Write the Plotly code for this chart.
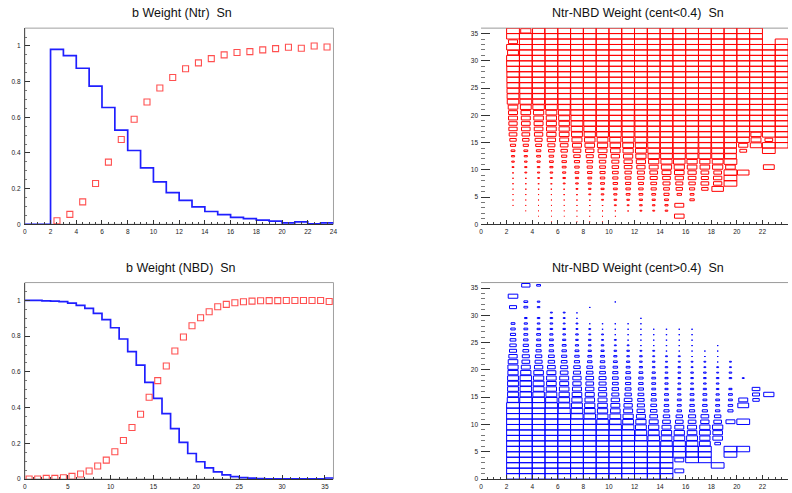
import math
import plotly.graph_objects as go

# ---------------------------------------------------------------- data
# b weight as a function of Ntr (bins of width 1 from 0 to 24)
ntr_bin_low = list(range(0, 24))
b_weight_ntr = [0, 0, 0.981, 0.946, 0.875, 0.775, 0.655, 0.528, 0.414, 0.316,
                0.238, 0.178, 0.134, 0.098, 0.072, 0.054, 0.039, 0.032, 0.024,
                0.018, 0.008, 0.014, 0.002, 0.008]
ntr_points = [2.5, 3.5, 4.5, 5.5, 6.5, 7.5, 8.5, 9.5, 10.5, 11.5, 12.5, 13.5,
              14.5, 15.5, 16.5, 17.5, 18.5, 19.5, 20.5, 21.5, 22.5, 23.5]
comp_weight_ntr = [0.02, 0.056, 0.126, 0.229, 0.349, 0.476, 0.589, 0.686, 0.764,
                   0.823, 0.872, 0.905, 0.929, 0.950, 0.963, 0.968, 0.978, 0.985,
                   0.993, 0.987, 1.0, 0.994]

# b weight as a function of NBD (bins of width 1 from 0 to 36)
nbd_bin_low = list(range(0, 36))
b_weight_nbd = [1.0, 1.0, 0.998, 0.996, 0.993, 0.985, 0.972, 0.955, 0.928, 0.893,
                0.847, 0.784, 0.713, 0.638, 0.541, 0.452, 0.366, 0.282, 0.205,
                0.143, 0.097, 0.063, 0.040, 0.023, 0.014, 0.008, 0.005, 0.003,
                0.001, 0.001, 0.001, 0.001, 0.001, 0.001, 0.001, 0.006]
nbd_points = [0.5, 1.5, 2.5, 3.5, 4.5, 5.5, 6.5, 7.5, 8.5, 9.5, 10.5, 11.5, 12.5,
              13.5, 14.5, 15.5, 16.5, 17.5, 18.5, 19.5, 20.5, 21.5, 22.5, 23.5,
              24.5, 25.5, 26.5, 27.5, 28.5, 29.5, 30.5, 31.5, 32.5, 33.5, 34.5, 35.5]
comp_weight_nbd = [0, 0, 0.004, 0.004, 0.007, 0.015, 0.028, 0.045, 0.073, 0.106,
                   0.153, 0.216, 0.289, 0.363, 0.458, 0.551, 0.633, 0.717, 0.795,
                   0.858, 0.903, 0.937, 0.965, 0.978, 0.987, 0.993, 0.996, 0.998,
                   0.999, 0.999, 1.0, 1.0, 1.0, 1.0, 1.0, 0.994]

# 2D Ntr-NBD weights: one list per Ntr bin (2..23), entries over NBD bins 0..35
ntr_2d_bins = [2, 3, 4, 5, 6, 7, 8, 9, 10, 11, 12, 13, 14, 15, 16, 17, 18, 19, 20, 21, 22, 23]

w_cent_below = [
    [0, 0, 0, .004, .005, .005, .006, .01, .01, .014, .023, .04, .06, .09, .16, .25, .36, .42, .42, .49, .49, .56, .81, .85, .88, .9, .92, .92, .96, 1, 1, .72, 1, .49, 1, 1],
    [0, 0, .003, .004, .005, .006, .01, .01, .014, .023, .032, .04, .06, .09, .16, .25, .36, .45, .46, .49, .56, .72, .85, .88, .9, .92, .94, .94, .96, .98, 1, .96, .96, 1, 1, .64],
    [0, .002, .003, .004, .005, .006, .01, .014, .02, .029, .04, .06, .09, .12, .2, .3, .42, .46, .49, .56, .64, .81, .86, .9, .92, .94, .94, .96, .96, .96, 1, .96, .96, 1, 1, .9],
    [.002, .002, .003, .004, .005, .006, .01, .017, .023, .04, .06, .09, .12, .2, .3, .42, .52, .58, .61, .64, .72, .86, .9, .94, .94, .94, .96, .96, .96, .96, .98, 1, 1, 1, 1, 1],
    [0, .002, .003, .004, .006, .01, .014, .023, .04, .06, .09, .12, .16, .25, .36, .49, .58, .64, .67, .74, .81, .9, .92, .94, .94, .96, .96, .96, .98, .98, .98, 1, 1, 1, 1, 1],
    [.002, .003, .004, .006, .01, .014, .023, .04, .06, .09, .12, .16, .25, .36, .49, .61, .72, .81, .85, .88, .92, .94, .94, .96, .96, .96, .98, .98, .98, 1, .99, 1, 1, 1, 1, 1],
    [.003, .004, .006, .01, .014, .023, .04, .06, .09, .12, .16, .2, .3, .42, .56, .67, .77, .85, .88, .92, .94, .96, .96, .96, .98, .98, .98, .98, 1, 1, 1, 1, 1, 1, 1, 1],
    [.003, .004, .006, .01, .023, .04, .06, .09, .12, .16, .2, .25, .36, .49, .64, .72, .85, .9, .9, .94, .96, .96, .96, .98, .98, .98, .98, 1, 1, 1, 1, 1, 1, 1, 1, 1],
    [0, .004, .006, .023, .04, .06, .09, .12, .16, .2, .25, .3, .42, .56, .67, .77, .85, .9, .88, .92, .94, .96, .96, .98, .98, .98, 1, 1, 1, 1, 1, 1, 1, 1, 1, 1],
    [0, 0, .01, .023, .04, .09, .12, .16, .2, .25, .36, .42, .52, .64, .72, .81, .86, .9, .9, .92, .94, .96, .96, .96, .98, 1, 1, 1, 1, 1, 1, 1, 1, 1, 1, 1],
    [0, 0, .023, .04, .06, .09, .12, .16, .25, .3, .42, .52, .64, .72, .77, .85, .88, .9, .88, .92, .94, .96, .96, .98, .98, 1, 1, 1, 1, 1, 1, 1, 1, 1, 1, 1],
    [0, 0, .023, .04, .06, .09, .16, .2, .3, .36, .49, .64, .77, .85, .88, .9, .92, .92, .92, .94, .96, .96, .98, .98, .98, 1, 1, 1, 1, 1, 1, 1, 1, 1, 1, 1],
    [0, 0, .04, .06, .09, .16, .2, .3, .36, .49, .64, .76, .85, .88, .9, .92, .94, .94, .94, .96, .96, .98, .98, .98, 1, 1, 1, 1, 1, 1, 1, 1, 1, 1, 1, 1],
    [0, .56, 0, .49, 0, .12, .25, .3, .42, .56, .64, .81, .88, .9, .92, .94, .94, .96, .96, .96, .96, .98, .98, .98, 1, 1, 1, 1, 1, 1, 1, 1, 1, 1, 1, 1],
    [0, 0, 0, 0, .12, .09, .16, .25, .36, .42, .56, .64, .85, .88, .9, .92, .94, .96, .96, .96, .98, .98, 1, 1, 1, 1, 1, 1, 1, 1, 1, 1, 1, 1, 1, 1],
    [0, 0, 0, 0, 0, 0, .25, .36, .3, .36, .56, .64, .86, .88, .9, .92, .94, .96, .96, .96, .98, .98, 1, 1, 1, 1, 1, 1, 1, 1, 1, 1, 1, 1, 1, 1],
    [0, 0, 0, 0, 0, 0, .81, .42, .42, .36, .64, .72, .86, .88, .9, .92, .94, .96, .96, .96, .98, .98, 1, 1, 1, 1, 1, 1, 1, 1, 1, 1, 1, 1, 1, 1],
    [0, 0, 0, 0, 0, 0, 0, 1, 1, 1, .56, 1, .85, .88, .9, .92, .94, 1, .96, .96, .98, .98, 1, 1, 1, 1, 1, 1, 1, 1, 1, 1, 1, 1, 1, 1],
    [0, 0, 0, 0, 0, 0, 0, 0, 0, .81, 0, 0, 0, .28, .51, .9, 1, 1, .98, 1, 1, 1, 1, 1, 1, 1, 1, 1, 1, 1, 1, 1, 1, 1, 1, 1],
    [0, 0, 0, 0, 0, 0, 0, 0, 0, 0, 0, 0, 0, 0, .8, .6, .65, 1, 1, 1, 1, 1, 1, 1, 1, 1, 1, 1, 1, 1, 1, 1, 1, 1, 1, 1],
    [0, 0, 0, 0, 0, 0, 0, 0, 0, 0, .72, 0, 0, 1, 1, .36, 1, 1, 1, 1, 1, 1, 1, 1, 1, 1, 1, 1, 1, 1, 1, 1, 1, 0, 0, 0],
    [0, 0, 0, 0, 0, 0, 0, 0, 0, 0, 0, 0, 0, 0, 1, 1, 1, 1, 1, 1, 1, 1, 1, 1, 1, 1, 1, 1, 1, 1, 1, 1, 1, 1, 0, 0],
]

w_cent_above = [
    [1, 1, 1, 1, 1, 1, 1, 1, 1, 1, 1, 1, 1, 1, .81, .72, .72, .72, .72, .64, .64, .56, .42, .3, .25, .2, .16, .12, .09, 0, 0, .3, 0, .56, 0, 0],
    [1, 1, 1, 1, 1, 1, 1, 1, 1, 1, 1, 1, 1, 1, .9, .81, .81, .81, .81, .64, .49, .36, .3, .2, .16, .12, .09, .09, .06, .04, 0, .09, .09, 0, 0, .42],
    [1, 1, 1, 1, 1, 1, 1, 1, 1, 1, 1, 1, 1, 1, .9, .81, .72, .72, .64, .56, .42, .3, .25, .16, .12, .09, .09, .06, .04, .04, 0, .04, .04, 0, 0, .09],
    [1, 1, 1, 1, 1, 1, 1, 1, 1, 1, 1, 1, 1, .9, .81, .72, .64, .56, .56, .49, .36, .25, .2, .12, .09, .09, .06, .04, .04, .04, .023, 0, 0, 0, 0, 0],
    [1, 1, 1, 1, 1, 1, 1, 1, 1, 1, 1, 1, .9, .81, .72, .64, .56, .49, .49, .36, .3, .2, .16, .12, .09, .06, .04, .04, .023, .023, .023, 0, 0, 0, 0, 0],
    [1, 1, 1, 1, 1, 1, 1, 1, 1, 1, 1, .9, .81, .72, .64, .56, .49, .42, .42, .3, .25, .16, .12, .09, .06, .04, .04, .023, .023, .01, .01, 0, 0, 0, 0, 0],
    [1, 1, 1, 1, 1, 1, 1, 1, 1, 1, .9, .81, .72, .64, .56, .49, .42, .36, .36, .25, .2, .12, .09, .06, .04, .04, .023, .023, .01, 0, 0, .01, 0, 0, 0, 0],
    [1, 1, 1, 1, 1, 1, 1, 1, 1, 1, .81, .72, .64, .56, .49, .42, .36, .3, .3, .2, .16, .12, .09, .06, .04, .023, .023, .01, .01, 0, 0, 0, 0, 0, 0, 0],
    [1, 1, 1, 1, 1, 1, 1, 1, 1, .9, .81, .72, .56, .49, .42, .3, .25, .2, .2, .16, .12, .09, .06, .04, .023, .023, .01, .01, .01, 0, 0, 0, .01, 0, 0, 0],
    [1, 1, 1, 1, 1, 1, 1, 1, 1, .81, .72, .64, .49, .42, .36, .25, .2, .16, .16, .12, .09, .06, .04, .04, .023, .01, .01, .01, .01, 0, 0, 0, 0, 0, 0, 0],
    [1, 1, 1, 1, 1, 1, 1, .9, .81, .72, .64, .49, .36, .3, .25, .2, .16, .12, .12, .09, .06, .04, .04, .023, .01, .01, .01, .01, .01, .01, 0, 0, 0, 0, 0, 0],
    [1, 1, 1, 1, 1, 1, .9, .81, .72, .64, .49, .36, .25, .2, .16, .12, .09, .09, .09, .06, .04, .04, .023, .023, .01, .01, .01, .01, 0, 0, 0, 0, 0, 0, 0, 0],
    [1, 1, 1, 1, 1, 1, .81, .72, .64, .49, .36, .25, .16, .12, .09, .09, .06, .06, .06, .04, .04, .023, .023, .01, .01, .01, .01, .01, 0, 0, 0, 0, 0, 0, 0, 0],
    [0, .49, 0, .49, 1, .9, .9, .72, .64, .49, .36, .25, .12, .09, .09, .06, .06, .04, .04, .04, .04, .023, .023, .01, .01, .01, .01, .01, 0, 0, 0, 0, 0, 0, 0, 0],
    [0, 0, 0, 1, .9, .9, .81, .72, .56, .49, .36, .3, .16, .12, .09, .09, .06, .04, .04, .04, .023, .023, .01, .01, .01, .01, .01, .01, 0, 0, 0, 0, 0, 0, 0, 0],
    [0, 0, 0, 1, 1, 1, .72, .64, .72, .64, .42, .36, .16, .12, .09, .09, .06, .04, .04, .04, .023, .023, .01, .01, 0, 0, 0, 0, 0, 0, 0, 0, 0, 0, 0, 0],
    [0, 0, 1, 0, 0, 0, .2, .56, .56, .64, .36, .25, .12, .09, .09, .06, .04, .04, .04, .023, .023, .01, .01, .01, .01, 0, 0, 0, 0, 0, 0, 0, 0, 0, 0, 0],
    [0, 0, 0, 0, 1, 1, 0, 0, 0, 0, .49, 0, .16, .12, .09, .09, .06, 0, .04, .04, .023, .023, 0, 0, 0, 0, 0, 0, 0, 0, 0, 0, 0, 0, 0, 0],
    [0, 0, 0, 0, 0, 1, 0, 0, 0, 0, 1, 0, 0, .72, .49, 0, 0, 0, .023, 0, 0, 0, 0, 0, 0, 0, 0, 0, 0, 0, 0, 0, 0, 0, 0, 0],
    [0, 0, 0, 0, 0, 0, 0, 0, 0, 0, 0, 0, 0, 0, .25, .3, .36, 0, 0, 0, 0, 0, 0, 0, 0, 0, 0, 0, 0, 0, 0, 0, 0, 0, 0, 0],
    [0, 0, 0, 0, 0, 0, 0, 0, 0, 0, 0, 0, 0, 0, 0, .64, 0, 0, 0, 0, 0, 0, 0, 0, 0, 0, 0, 0, 0, 0, 0, 0, 0, 0, 0, 0],
    [0, 0, 0, 0, 0, 0, 0, 0, 0, 0, 0, 0, 0, 0, 0, 0, 0, 0, 0, 0, 0, 0, 0, 0, 0, 0, 0, 0, 0, 0, 0, 0, 0, 0, 0, 0],
]

titles = ["b Weight (Ntr)  Sn", "Ntr-NBD Weight (cent<0.4)  Sn",
          "b Weight (NBD)  Sn", "Ntr-NBD Weight (cent>0.4)  Sn"]

# ---------------------------------------------------------------- styling
FONT = "Liberation Sans, Arial, Helvetica, sans-serif"
BLUE = "#1f1fff"
RED_MARK = "#ff5050"
W, H = 792, 493

x_left = [23 / W, 334 / W]
x_right = [482.7 / W, 1.0]
y_top = [(H - 225.7) / H, (H - 28.3) / H]
y_bot = [(H - 482.0) / H, (H - 284.3) / H]


def step_xy(edges_low, values, last_edge):
    xs = list(edges_low) + [last_edge]
    ys = list(values) + [values[-1]]
    return xs, ys


def box_outline(columns, bins):
    """ROOT 'BOX' style: each cell is a box centred on the bin whose area
    scales with the bin content."""
    wmax = max(max(c) for c in columns)
    xs, ys = [], []
    for col, ntr in zip(columns, bins):
        cx = ntr + 0.5
        for j, w in enumerate(col):
            if w <= 0:
                continue
            h = 0.5 * math.sqrt(w / wmax)
            cy = j + 0.5
            xs += [cx - h, cx + h, cx + h, cx - h, cx - h, None]
            ys += [cy - h, cy - h, cy + h, cy + h, cy - h, None]
    return xs, ys


fig = go.Figure()

# top-left: weight vs Ntr
sx, sy = step_xy(ntr_bin_low, b_weight_ntr, 24)
fig.add_trace(go.Scatter(x=sx, y=sy, mode="lines", line=dict(color=BLUE, width=1.7, shape="hv"),
                         xaxis="x", yaxis="y", showlegend=False))
fig.add_trace(go.Scatter(x=ntr_points, y=comp_weight_ntr, mode="markers",
                         marker=dict(symbol="square-open", size=6, color=RED_MARK,
                                     line=dict(width=1.1, color=RED_MARK)),
                         xaxis="x", yaxis="y", showlegend=False))

# bottom-left: weight vs NBD
sx, sy = step_xy(nbd_bin_low, b_weight_nbd, 36)
fig.add_trace(go.Scatter(x=sx, y=sy, mode="lines", line=dict(color=BLUE, width=1.7, shape="hv"),
                         xaxis="x3", yaxis="y3", showlegend=False))
fig.add_trace(go.Scatter(x=nbd_points, y=comp_weight_nbd, mode="markers",
                         marker=dict(symbol="square-open", size=6, color=RED_MARK,
                                     line=dict(width=1.1, color=RED_MARK)),
                         xaxis="x3", yaxis="y3", showlegend=False))

# right column: 2D box maps
bx, by = box_outline(w_cent_below, ntr_2d_bins)
fig.add_trace(go.Scatter(x=bx, y=by, mode="lines", line=dict(color="#ff0000", width=1),
                         xaxis="x2", yaxis="y2", showlegend=False, connectgaps=False))
bx, by = box_outline(w_cent_above, ntr_2d_bins)
fig.add_trace(go.Scatter(x=bx, y=by, mode="lines", line=dict(color="#0000ff", width=1),
                         xaxis="x4", yaxis="y4", showlegend=False, connectgaps=False))

tickfont = dict(family=FONT, size=6.5, color="#222")


def xaxis(domain, rng, dtick, minor, anchor):
    return dict(domain=domain, range=rng, anchor=anchor, dtick=dtick, tick0=0,
                ticks="inside", ticklen=4, tickwidth=1, tickcolor="#333",
                minor=dict(dtick=minor, tick0=0, ticks="inside", ticklen=2,
                           tickcolor="#444", tickwidth=1),
                showline=True, linecolor="#333", linewidth=1,
                showgrid=False, zeroline=False, tickfont=tickfont,
                ticklabelstandoff=1)


def yaxis(domain, rng, dtick, minor, anchor, major_len, minor_len, line):
    return dict(domain=domain, range=rng, anchor=anchor, dtick=dtick, tick0=0,
                ticks="inside", ticklen=major_len, tickwidth=1, tickcolor="#333",
                minor=dict(dtick=minor, tick0=0, ticks="inside", ticklen=minor_len,
                           tickcolor="#777", tickwidth=1),
                showline=line, linecolor="#555", linewidth=1,
                showgrid=False, zeroline=False, tickfont=tickfont,
                ticklabelstandoff=2)


fig.update_layout(
    width=W, height=H,
    margin=dict(l=0, r=0, t=0, b=0),
    paper_bgcolor="white", plot_bgcolor="white",
    font=dict(family=FONT),
    xaxis=xaxis(x_left, [0, 24], 2, 0.5, "y"),
    yaxis=yaxis(y_top, [0, 1.1], 0.2, 0.05, "x", 5, 2.5, True),
    xaxis2=xaxis(x_right, [0, 24], 2, 0.5, "y2"),
    yaxis2=yaxis(y_top, [0, 36], 5, 1, "x2", 9, 4, False),
    xaxis3=xaxis(x_left, [0, 36], 5, 1, "y3"),
    yaxis3=yaxis(y_bot, [0, 1.1], 0.2, 0.05, "x3", 5, 2.5, True),
    xaxis4=xaxis(x_right, [0, 24], 2, 0.5, "y4"),
    yaxis4=yaxis(y_bot, [0, 36], 5, 1, "x4", 9, 4, False),
)

# frames: full box on the 1D panels, top edge on the 2D panels
for xa, ya in (("x", "y"), ("x3", "y3")):
    fig.add_shape(type="rect", xref=f"{xa} domain", yref=f"{ya} domain",
                  x0=0, x1=1, y0=0, y1=1, line=dict(color="#a0a0a0", width=1),
                  layer="below")
for xa, ya in (("x2", "y2"), ("x4", "y4")):
    fig.add_shape(type="line", xref=f"{xa} domain", yref=f"{ya} domain",
                  x0=0, x1=1, y0=1, y1=1, line=dict(color="#9a9a9a", width=1),
                  layer="below")

# pad titles
title_pos = [(181, 13.5), (641, 13.5), (180, 270), (641, 270)]
for text, (tx, ty) in zip(titles, title_pos):
    fig.add_annotation(text=text, x=tx / W, y=1 - ty / H, xref="paper", yref="paper",
                       xanchor="center", yanchor="middle", showarrow=False,
                       font=dict(family=FONT, size=12.5, color="#111"))

fig.write_html("out.html")
